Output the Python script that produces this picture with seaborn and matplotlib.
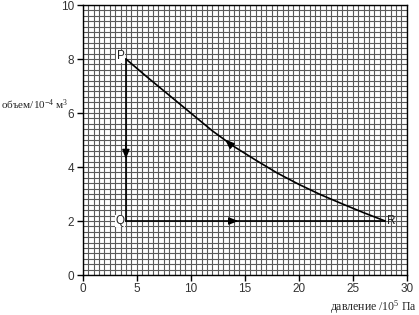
import numpy as np
import pandas as pd
import matplotlib
matplotlib.use("Agg")
import matplotlib.pyplot as plt
import seaborn as sns

# Data
curve_x = [4, 6, 8, 10, 12, 14, 16, 18, 20, 22, 24, 26, 28]
curve_y = [8.0, 7.32, 6.66, 6.0, 5.34, 4.76, 4.26, 3.78, 3.36, 2.98, 2.64, 2.31, 2.0]
pq_x = [4, 4]
pq_y = [8, 2]
qr_x = [4, 28]
qr_y = [2, 2]
point_labels = ["P", "Q", "R"]
point_x = [4, 4, 28]
point_y = [8, 2, 2]
x_ticks = [0, 5, 10, 15, 20, 25, 30]
y_ticks = [0, 2, 4, 6, 8, 10]
# arrows: (x, y, dx, dy) direction
arrow_x = [4.0, 14.1, 13.47]
arrow_y = [4.6, 2.0, 4.91]
arrow_dx = [0.0, 1.0, -1.0]
arrow_dy = [-1.0, 0.0, 0.36]

sns.set_style("white")
plt.rcParams['font.family'] = ['Liberation Sans', 'DejaVu Sans']
plt.rcParams['mathtext.fontset'] = 'custom'
plt.rcParams['mathtext.rm'] = 'Liberation Serif'
plt.rcParams['mathtext.it'] = 'Liberation Serif'

fig = plt.figure(figsize=(4.19, 3.15), dpi=100)
ax = fig.add_axes([82.7 / 419, 1 - 275 / 315, (406.7 - 82.7) / 419, 270 / 315])

df_curve = pd.DataFrame({"p": curve_x, "v": curve_y})
df_pq = pd.DataFrame({"p": pq_x, "v": pq_y})
df_qr = pd.DataFrame({"p": qr_x, "v": qr_y})
for d in (df_curve, df_pq, df_qr):
    sns.lineplot(data=d, x="p", y="v", ax=ax, color="black", linewidth=1.2,
                 sort=False, estimator=None, zorder=5)

ax.set_xlim(0, 30)
ax.set_ylim(0, 10)
ax.set_xticks(x_ticks)
ax.set_yticks(y_ticks)
ax.set_xticks(np.arange(0, 30.01, 0.5), minor=True)
ax.set_yticks(np.arange(0, 10.01, 0.2), minor=True)
ax.grid(True, which="both", color="#5a5a5a", linewidth=0.8)
ax.set_axisbelow(True)
ax.tick_params(which="major", direction="out", length=4, width=1, color="black",
               labelsize=8.5, labelcolor="#333333", bottom=True, left=True, pad=2)
ax.tick_params(which="minor", length=0)
for s in ax.spines.values():
    s.set_color("black")
    s.set_linewidth(1.0)
ax.set_xlabel("")
ax.set_ylabel("")

for lab, px, py in zip(point_labels, point_x, point_y):
    if lab == "R":
        ax.text(px + 0.15, py, lab, ha="left", va="center", fontsize=8.5,
                color="#222222", zorder=6)
    else:
        ax.text(px - 0.1, py + (0.1 if lab == "P" else 0), lab, ha="right",
                va="center", fontsize=8.5, color="#222222", zorder=6,
                bbox=dict(facecolor="white", edgecolor="none", pad=0.3))

for x, y, dx, dy in zip(arrow_x, arrow_y, arrow_dx, arrow_dy):
    n = np.hypot(dx, dy)
    ax.annotate("", xy=(x + 0.3 * dx / n, y + 0.3 * dy / n),
                xytext=(x - 0.3 * dx / n, y - 0.3 * dy / n),
                arrowprops=dict(arrowstyle="-|>,head_length=0.55,head_width=0.22",
                                color="black", lw=1.0, shrinkA=0, shrinkB=0),
                zorder=7)

fig.text(0.002, 1 - 105 / 315, "объем/10$^{-4}$ м$^3$", ha="left", va="center",
         fontsize=8, family="Liberation Serif")
fig.text(0.995, 1 - 307 / 315, "давление /10$^5$ Па", ha="right", va="center",
         fontsize=8.5, family="Liberation Serif")

fig.savefig("out.png", dpi=100)
